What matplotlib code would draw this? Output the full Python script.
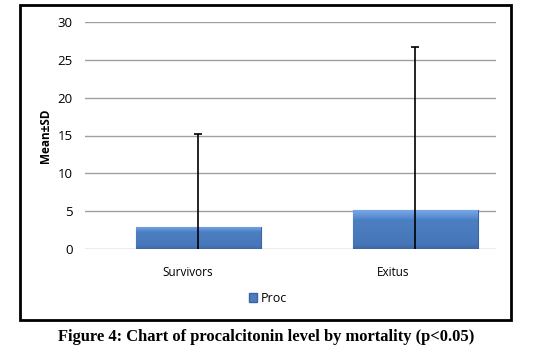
import matplotlib
matplotlib.use("Agg")
import matplotlib.pyplot as plt
import matplotlib.transforms as mtransforms
from matplotlib.patches import Rectangle
from matplotlib.colors import LinearSegmentedColormap
import numpy as np

categories = ["Survivors", "Exitus"]
means = [2.95, 5.15]
sds = [12.3, 21.5]
series_name = "Proc"
yticks = [0, 5, 10, 15, 20, 25, 30]
caption = "Figure 4: Chart of procalcitonin level by mortality (p<0.05)"

W, H = 553, 360
fig = plt.figure(figsize=(W / 100, H / 100), dpi=100)

# outer frame
fig.patches.append(Rectangle((20 / W, 1 - 320 / H), 491 / W, 315 / H,
                             transform=fig.transFigure, fill=False,
                             edgecolor="black", linewidth=2.0))

ax = fig.add_axes([85 / W, 1 - 249 / H, 411 / W, 227 / H])
x = np.arange(len(categories))
bars = ax.bar(x, means, width=0.576, color="#4A7DBF", edgecolor="#3A65A0",
              linewidth=0.8, zorder=2, label=series_name)

# bevel-like shading
grad = np.linspace(0, 1, 100).reshape(-1, 1)
cmap = LinearSegmentedColormap.from_list(
    "b", [(0, "#3B67A6"), (0.12, "#4676B8"), (0.75, "#4C7FC2"), (0.85, "#5E91D6"), (1.0, "#79A7E4")])
for b in bars:
    bx, by = b.get_x(), b.get_y()
    bw, bh = b.get_width(), b.get_height()
    im = ax.imshow(grad, cmap=cmap, extent=[bx, bx + bw, by, by + bh],
                   aspect="auto", origin="lower", zorder=2.5)
    im.set_clip_path(b)

ax.errorbar(x, means, yerr=sds, fmt="none", ecolor="black", elinewidth=1.2,
            capsize=3, capthick=1.2, zorder=3)

ax.set_xlim(-0.523, 1.371)
ax.set_ylim(0, 30)
ax.set_yticks(yticks)
ax.yaxis.grid(True, color="#A0A0A0", linewidth=1.0, zorder=0)
ax.set_axisbelow(True)
for s in ax.spines.values():
    s.set_visible(False)
ax.tick_params(axis="both", length=0, colors="black")
ax.tick_params(axis="y", pad=9, labelsize=9.5)
ax.tick_params(axis="x", pad=12)
ax.set_xticks(x)
ax.set_xticklabels(categories, fontfamily="Open Sans", fontsize=8.5)
for lab in ax.get_yticklabels():
    lab.set_fontfamily("Open Sans")
shifts = [-11, -22]
for lab, s in zip(ax.get_xticklabels(), shifts):
    lab.set_transform(lab.get_transform() + mtransforms.ScaledTranslation(s / 100, 0, fig.dpi_scale_trans))

ax.set_ylabel("Mean±SD", fontfamily="Open Sans", fontweight="bold", fontsize=8.5, labelpad=4)

handle = Rectangle((0, 0), 1, 1, facecolor="#4A7DBF", edgecolor="#3A65A0")
fig.legend([handle], [series_name], loc="center", bbox_to_anchor=(268 / W, 1 - 298 / H),
           frameon=False, prop={"family": "Open Sans", "size": 9},
           handlelength=0.7, handleheight=0.7, handletextpad=0.3)

fig.text(266 / W, 1 - 337 / H, caption, ha="center", va="center",
         fontfamily="Liberation Serif", fontweight="bold", fontsize=11.9)

fig.savefig("out.png", dpi=100, facecolor="white")
